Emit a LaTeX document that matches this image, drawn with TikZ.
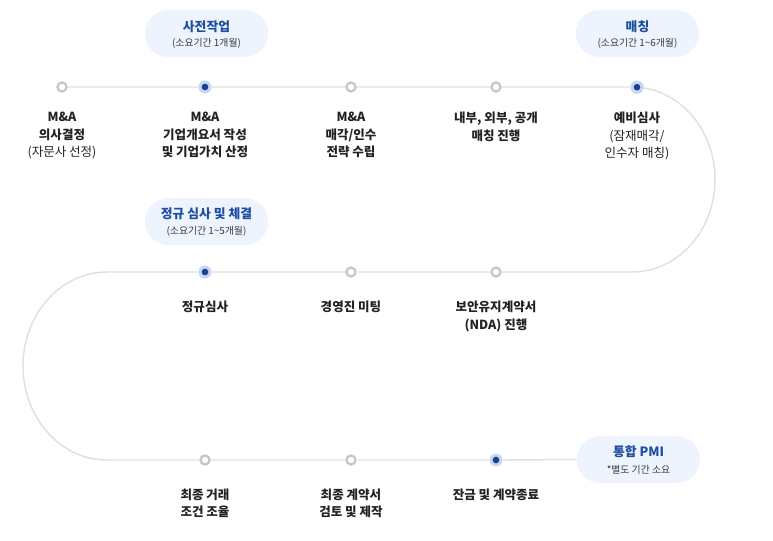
\documentclass[tikz,border=0pt]{standalone}
\usepackage{fontspec}
\setmainfont{Noto Sans CJK KR}
\definecolor{trackc}{HTML}{E0E0E0}
\definecolor{dotgray}{HTML}{C6C6C6}
\definecolor{dotblue}{HTML}{1A3F96}
\definecolor{haloc}{HTML}{C9D8F2}
\definecolor{pillc}{HTML}{EDF4FE}
\definecolor{titlec}{HTML}{1E4EA2}
\definecolor{subc}{HTML}{3A3A3A}
\definecolor{labelc}{HTML}{222222}
\tikzset{
  track/.style={draw=trackc, line width=1.1pt},
  graydot/.style={circle, draw=dotgray, line width=1.7pt, fill=white, inner sep=0pt, minimum size=6.8pt},
  bluedot/.style={circle, fill=haloc, inner sep=0pt, minimum size=9.8pt,
    path picture={\fill[dotblue] (path picture bounding box.center) circle (2.5pt);}},
  pill/.style={rectangle, rounded corners=17.6pt, fill=pillc, inner sep=0pt, minimum width=92.5pt, minimum height=35.2pt},
  pilltitle/.style={inner sep=0pt, text=titlec, font=\fontsize{9.6}{11}\selectfont\bfseries},
  pillsub/.style={inner sep=0pt, text=subc, font=\fontsize{7.4}{8}\selectfont},
  lbl/.style={anchor=north, align=center, inner sep=0pt, text=labelc, font=\fontsize{9.4}{13.1}\selectfont\bfseries},
}
\begin{document}
\begin{tikzpicture}[x=0.75pt,y=-0.75pt]
\useasboundingbox (0,0) rectangle (773,540);
% coordinates of track bends
\coordinate (c1) at (632,87);
\coordinate (c2) at (107,272);
% pills
\node[pill] (p1) at (206.5,33.5) {};
\node[pill] (p2) at (637.5,33.5) {};
\node[pill] (p3) at (206.5,221.5) {};
\node[pill] (p4) at (638.5,459.5) {};
% dots
\node[graydot] (d1) at (62,87) {};
\node[bluedot] (d2) at (205,87) {};
\node[graydot] (d3) at (351,87) {};
\node[graydot] (d4) at (496,87) {};
\node[bluedot] (d5) at (637,87.2) {};
\node[bluedot] (e1) at (205,272) {};
\node[graydot] (e2) at (351,272) {};
\node[graydot] (e3) at (496,272) {};
\node[graydot] (f1) at (205,460) {};
\node[graydot] (f2) at (351,460) {};
\node[bluedot] (f3) at (496,460) {};
% track
\path[track] (d1.east) -- (d2.west) (d2.east) -- (d3.west) (d3.east) -- (d4.west) (d4.east) -- (c1) arc[start angle=-90, end angle=90, x radius=83, y radius=92.5] -- (e3.east) (e3.west) -- (e2.east) (e2.west) -- (e1.east) (e1.west) -- (c2) arc[start angle=270, end angle=90, x radius=84, y radius=94] -- (f1.west) (f1.east) -- (f2.west) (f2.east) -- (f3.west) (f3.east) -- (p4.west);
% redraw dot d5 on top of the bend
\node[bluedot] at (d5) {};
% pill texts
\node[pilltitle] (p1t) at (206.5,26.5) {사전작업};
\node[pillsub] (p1s) at (206.5,43.5) {(소요기간 1개월)};
\node[pilltitle] (p2t) at (637.5,26.5) {매칭};
\node[pillsub] (p2s) at (637.5,43.5) {(소요기간 1\char`\~6개월)};
\node[pilltitle] (p3t) at (206.5,214) {정규 심사 및 체결};
\node[pillsub] (p3s) at (206.5,231.5) {(소요기간 1\char`\~5개월)};
\node[pilltitle] (p4t) at (638.5,452) {통합 PMI};
\node[pillsub] (p4s) at (638.5,470) {*별도 기간 소요};
% labels row 1
\node[lbl] (l1) at (62,112) {M\&A\\의사결정\\{\mdseries (자문사 선정)}};
\node[lbl] (l2) at (205,112) {M\&A\\기업개요서 작성\\및 기업가치 산정};
\node[lbl] (l3) at (351,112) {M\&A\\매각/인수\\전략 수립};
\node[lbl] (l4) at (496,112) {내부, 외부, 공개\\매칭 진행};
\node[lbl] (l5) at (637,112) {예비심사\\{\mdseries (잠재매각/}\\{\mdseries 인수자 매칭)}};
% labels row 2
\node[lbl] (m1) at (205,301) {정규심사};
\node[lbl] (m2) at (351,301) {경영진 미팅};
\node[lbl] (m3) at (496,301) {보안유지계약서\\(NDA) 진행};
% labels row 3
\node[lbl] (n1) at (205,488.5) {최종 거래\\조건 조율};
\node[lbl] (n2) at (351,488.5) {최종 계약서\\검토 및 제작};
\node[lbl] (n3) at (496,488.5) {잔금 및 계약종료};
\end{tikzpicture}
\end{document}
